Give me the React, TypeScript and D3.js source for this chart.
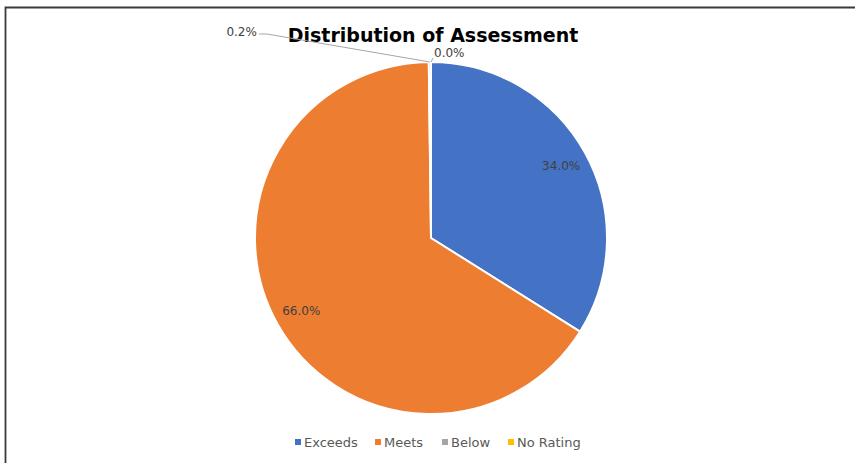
import * as d3 from "d3";
import React from "react";

const categories = ["Exceeds", "Meets", "Below", "No Rating"];
const values = [0.34, 0.66, 0.002, 0];
const labels = ["34.0%", "66.0%", "0.2%", "0.0%"];
const colors = ["#4472C4", "#ED7D31", "#A5A5A5", "#FFC000"];

const W = 855;
const H = 463;
const cx = 431;
const cy = 238;
const R = 176;

export default function App() {
  const pie = d3.pie<number>().sort(null).value((d) => d);
  const arcs = pie(values);
  const arc = d3.arc<d3.PieArcDatum<number>>().innerRadius(0).outerRadius(R);

  const mid = (a: d3.PieArcDatum<number>) => (a.startAngle + a.endAngle) / 2;
  const at = (ang: number, r: number) => [Math.sin(ang) * r, -Math.cos(ang) * r];

  // legend layout
  const legendX = [295, 375, 442, 508];

  return (
    <svg width={W} height={H} style={{ position: "absolute", left: 0, top: 0, background: "#fff" }}>
      <rect x={0} y={0} width={W} height={H} fill="#fff" />
      <path d={`M5.5,${H} V7.5 H${W}`} fill="none" stroke="#3a3a3a" strokeWidth={1.8} />
      <text x={433} y={42} textAnchor="middle" fontFamily="'DejaVu Sans', sans-serif" fontWeight="bold" fontSize={19} fill="#000">
        Distribution of Assessment
      </text>
      <g transform={`translate(${cx},${cy})`}>
        {arcs.map((a, i) =>
          a.endAngle - a.startAngle > 0 ? (
            <path key={i} d={arc(a) || ""} fill={colors[i]} stroke="#fff" strokeWidth={2} />
          ) : null
        )}
        {arcs.map((a, i) => {
          if (i > 1) return null;
          const [x, y] = at(mid(a), R * 0.845);
          return (
            <text key={i} x={x} y={y} dy="0.35em" textAnchor="middle" fontFamily="'DejaVu Sans', sans-serif" fontSize={12} fill="#404040">
              {labels[i]}
            </text>
          );
        })}
        {(() => {
          const [ex, ey] = at(mid(arcs[2]), R);
          const [ex3, ey3] = at(mid(arcs[3]), R);
          return (
            <g>
              <polyline points={`${ex},${ey} ${ex - 163},${ey - 28} ${ex - 171},${ey - 28}`} fill="none" stroke="#a6a6a6" strokeWidth={1} />
              <text x={ex - 173} y={ey - 30} dy="0.35em" textAnchor="end" fontFamily="'DejaVu Sans', sans-serif" fontSize={12} fill="#404040">
                {labels[2]}
              </text>
              <line x1={ex3} y1={ey3} x2={ex3 + 2} y2={ey3 - 4} stroke="#a6a6a6" strokeWidth={1} />
              <text x={ex3 + 3} y={ey3 - 5} textAnchor="start" fontFamily="'DejaVu Sans', sans-serif" fontSize={12} fill="#404040">
                {labels[3]}
              </text>
            </g>
          );
        })()}
      </g>
      <g fontFamily="'DejaVu Sans', sans-serif" fontSize={13} fill="#595959">
        {categories.map((c, i) => (
          <g key={c} transform={`translate(${legendX[i]},442)`}>
            <rect x={0} y={-3} width={6} height={6} fill={colors[i]} />
            <text x={9} y={0} dy="0.35em">{c}</text>
          </g>
        ))}
      </g>
    </svg>
  );
}
